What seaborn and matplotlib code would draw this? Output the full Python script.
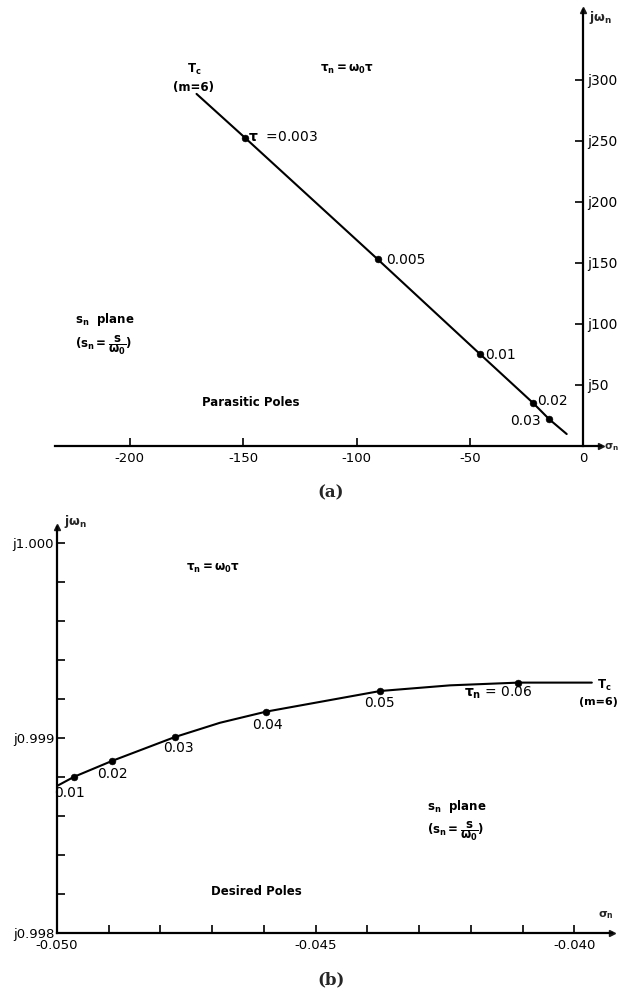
import matplotlib
matplotlib.use("Agg")
import matplotlib.pyplot as plt
import seaborn as sns
from matplotlib.ticker import FixedLocator, FixedFormatter

# (a) parasitic poles, s_n plane
curve_a_sigma = [-170.6, -149.3, -90.8, -45.7, -22.1, -15.1, -7.4]
curve_a_omega = [288.3, 252.5, 153.0, 75.4, 35.0, 21.9, 9.8]
tau_a = ["0.003", "0.005", "0.01", "0.02", "0.03"]
sigma_a = [-149.3, -90.8, -45.7, -22.1, -15.1]
omega_a = [252.5, 153.0, 75.4, 35.0, 21.9]
xticks_a = [-200, -150, -100, -50, 0]
yticks_a = [50, 100, 150, 200, 250, 300]

# (b) desired poles
curve_b_sigma = [-0.0500, -0.04967, -0.04894, -0.04772, -0.04685, -0.04596,
                 -0.04375, -0.04240, -0.04108, -0.03966]
curve_b_omega = [0.998754, 0.998801, 0.998882, 0.999005, 0.999078, 0.999135,
                 0.999241, 0.999270, 0.999284, 0.999284]
tau_b = ["0.01", "0.02", "0.03", "0.04", "0.05", "0.06"]
sigma_b = [-0.04967, -0.04894, -0.04772, -0.04596, -0.04375, -0.04108]
omega_b = [0.998801, 0.998882, 0.999005, 0.999135, 0.999241, 0.999284]
xticks_b = [-0.050, -0.049, -0.048, -0.047, -0.046, -0.045, -0.044, -0.043,
            -0.042, -0.041, -0.040]
xlabels_b = ["-0.050", "", "", "", "", "-0.045", "", "", "", "", "-0.040"]
yticks_b = [0.9980, 0.9982, 0.9984, 0.9986, 0.9988, 0.9990, 0.9992, 0.9994,
            0.9996, 0.9998, 1.0000]
ylabels_b = ["j0.998", "", "", "", "", "j0.999", "", "", "", "", "j1.000"]

sns.set_theme(style="white")
plt.rcParams["font.family"] = ["DejaVu Sans"]
plt.rcParams["mathtext.fontset"] = "dejavusans"
plt.rcParams["mathtext.default"] = "bf"
plt.rcParams["axes.unicode_minus"] = False

W, H = 620, 996
fig = plt.figure(figsize=(W / 100, H / 100), dpi=100)

note = dict(fontsize=8.5, fontweight="bold", color="black")
num = dict(fontsize=10, color="black")


def px_axes(x0, y0, x1, y1):
    # pixel box (left, top, right, bottom) -> figure fraction
    return fig.add_axes([x0 / W, 1 - y1 / H, (x1 - x0) / W, (y1 - y0) / H])


# ---------- panel (a) ----------
ax = px_axes(55, 10, 600.5, 446)
ax.set_facecolor("none")
sns.lineplot(x=curve_a_sigma, y=curve_a_omega, sort=False, color="black",
             linewidth=1.5, ax=ax)
sns.scatterplot(x=sigma_a, y=omega_a, color="black", s=24, edgecolor="black",
                ax=ax, zorder=3)
ax.set_xlim(-233, 7.5)
ax.set_ylim(0, 357)
for s in ["left", "top"]:
    ax.spines[s].set_visible(False)
ax.spines["right"].set_position(("data", 0))
for s in ["right", "bottom"]:
    ax.spines[s].set_linewidth(1.6)
    ax.spines[s].set_color("black")
ax.yaxis.tick_right()
ax.set_xticks(xticks_a)
ax.set_xticklabels([str(v) for v in xticks_a])
ax.set_yticks(yticks_a)
ax.set_yticklabels(["j%d" % v for v in yticks_a])
ax.tick_params(axis="x", direction="in", length=6, width=1.2, pad=4,
               labelsize=9.5, colors="black", bottom=True)
ax.tick_params(axis="y", direction="in", length=6, width=1.2, pad=3,
               labelsize=10, colors="black", right=True)
ax.plot(1, 0, ">k", ms=5, transform=ax.transAxes, clip_on=False)
ax.plot(0, 1, "^k", ms=5, transform=ax.get_xaxis_transform(), clip_on=False)

ax.text(-171.8, 308, r"$T_c$", ha="center", va="center", **note)
ax.text(-171.8, 293.4, "(m=6)", ha="center", va="center", **note)
ax.text(-104.3, 308, r"$\tau_n = \omega_0\tau$", ha="center", va="center",
        **note)
ax.text(-148, 253, r"$\tau$  =0.003", ha="left", va="center", **num)
ax.text(-87.1, 152.5, tau_a[1], ha="left", va="center", **num)
ax.text(-43.5, 74.6, tau_a[2], ha="left", va="center", **num)
ax.text(-20.5, 37, tau_a[3], ha="left", va="center", **num)
ax.text(-18.8, 20.5, tau_a[4], ha="right", va="center", **num)
ax.text(-224.3, 103.3, r"$s_n$  plane", ha="left", va="center", **note)
ax.text(-224.3, 83, r"$(s_n = \dfrac{s}{\omega_0})$", ha="left",
        va="center", **note)
ax.text(-146.7, 36, "Parasitic Poles", ha="center", va="center", **note)

fig.text(589 / W, 1 - 17 / H, r"$j\omega_n$", ha="left", va="center",
         fontsize=9)
fig.text(604 / W, 1 - 447 / H, r"$\sigma_n$", ha="left", va="center",
         fontsize=7.5)
fig.text(331 / W, 1 - 493 / H, "(a)", ha="center", va="center",
         fontsize=12, fontweight="bold", family="DejaVu Serif")

# ---------- panel (b) ----------
bx = px_axes(57, 527, 612, 933)
bx.set_facecolor("none")
sns.lineplot(x=curve_b_sigma, y=curve_b_omega, sort=False, color="black",
             linewidth=1.5, ax=bx)
sns.scatterplot(x=sigma_b, y=omega_b, color="black", s=24, edgecolor="black",
                ax=bx, zorder=3)
bx.set_xlim(-0.050, -0.03927)
bx.set_ylim(0.998, 1.000082)
for s in ["right", "top"]:
    bx.spines[s].set_visible(False)
for s in ["left", "bottom"]:
    bx.spines[s].set_linewidth(1.6)
    bx.spines[s].set_color("black")
bx.xaxis.set_major_locator(FixedLocator(xticks_b))
bx.xaxis.set_major_formatter(FixedFormatter(xlabels_b))
bx.yaxis.set_major_locator(FixedLocator(yticks_b))
bx.yaxis.set_major_formatter(FixedFormatter(ylabels_b))
bx.tick_params(axis="x", direction="in", length=6, width=1.2, pad=4,
               labelsize=9.5, colors="black", bottom=True)
bx.tick_params(axis="y", direction="in", length=6, width=1.2, pad=2,
               labelsize=9.5, colors="black", left=True)
bx.plot(1, 0, ">k", ms=5, transform=bx.transAxes, clip_on=False)
bx.plot(0, 1, "^k", ms=5, transform=bx.transAxes, clip_on=False)

bx.text(-0.04698, 0.999872, r"$\tau_n = \omega_0\tau$", ha="center",
        va="center", **note)
bx.text(-0.03956, 0.99927, r"$T_c$", ha="left", va="center", **note)
bx.text(-0.03990, 0.999185, "(m=6)", ha="left", va="center", fontsize=8,
        fontweight="bold", color="black")
bx.text(-0.04147, 0.999231, r"$\tau_n$ = " + tau_b[5], ha="center",
        va="center", **num)
bx.text(-0.04377, 0.999179, tau_b[4], ha="center", va="center", **num)
bx.text(-0.04594, 0.999067, tau_b[3], ha="center", va="center", **num)
bx.text(-0.04766, 0.998949, tau_b[2], ha="center", va="center", **num)
bx.text(-0.04892, 0.998815, tau_b[1], ha="center", va="center", **num)
bx.text(-0.04975, 0.998718, tau_b[0], ha="center", va="center", **num)
bx.text(-0.04284, 0.998648, r"$s_n$  plane", ha="left", va="center", **note)
bx.text(-0.04284, 0.998520, r"$(s_n = \dfrac{s}{\omega_0})$", ha="left",
        va="center", **note)
bx.text(-0.04615, 0.998212, "Desired Poles", ha="center", va="center",
        **note)

fig.text(64 / W, 1 - 522 / H, r"$j\omega_n$", ha="left", va="center",
         fontsize=9)
fig.text(606 / W, 1 - 915 / H, r"$\sigma_n$", ha="center", va="center",
         fontsize=8)
fig.text(331 / W, 1 - 980 / H, "(b)", ha="center", va="center",
         fontsize=12, fontweight="bold", family="DejaVu Serif")

fig.savefig("out.png", dpi=100, facecolor="white")
